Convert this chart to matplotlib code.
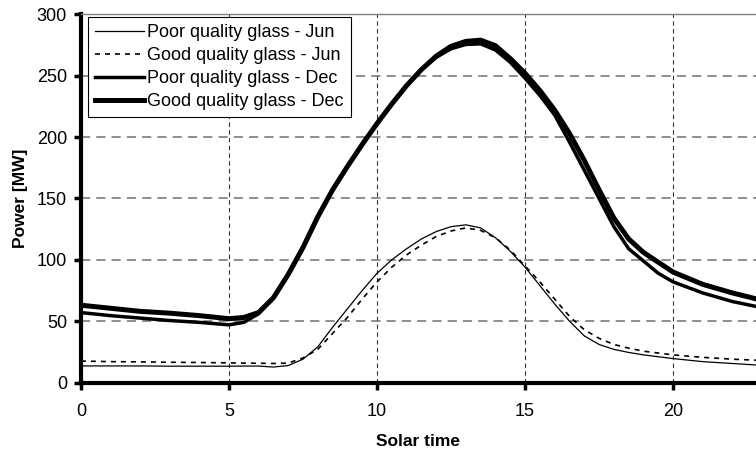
import matplotlib.pyplot as plt

plt.rcParams["font.family"] = ["Liberation Sans", "DejaVu Sans"]

# Values
hours = [0, 1, 2, 3, 4, 5, 5.5, 6, 6.5, 7, 7.5, 8, 8.5, 9, 9.5, 10, 10.5, 11, 11.5, 12,
         12.5, 13, 13.5, 14, 14.5, 15, 15.5, 16, 16.5, 17, 17.5, 18, 18.5, 19, 19.5,
         20, 21, 22, 23]
poor_jun = [13.5, 13.5, 13.5, 13.3, 13.3, 13.3, 13.4, 13.4, 12.6, 13.8, 19, 29, 45, 60, 75,
            89, 100, 109, 117, 123, 127, 128.5, 126, 118, 107, 94, 79, 64, 50, 38, 31,
            27, 24.5, 22.5, 21, 19.5, 17, 15.5, 14]
good_jun = [17.5, 17, 16.8, 16.5, 16.3, 16, 15.8, 15.7, 15.5, 15.8, 20, 27, 40, 53, 68,
            82, 94, 104, 112, 119, 123.5, 126, 124, 118, 108, 95, 82, 68, 54, 43, 36,
            31, 28, 25.5, 24, 22.5, 20.5, 19, 18]
poor_dec = [57, 54.5, 52.5, 50.5, 49, 47, 49, 56, 69, 88, 110, 135, 157, 176, 194,
            211, 227, 242, 255, 265, 272, 275.5, 276, 271, 261, 248, 234, 218, 196, 173, 150,
            127, 109, 99, 89, 82, 73, 66, 61]
good_dec = [63, 60.5, 58, 56.5, 54.5, 52, 53, 57, 69, 88, 110, 135, 157, 176, 194,
            211, 227, 242, 255, 266, 274, 278, 279, 274.5, 264, 252, 238, 222, 203, 181, 157,
            134, 117, 106, 98, 90, 80, 73, 67]

fig = plt.figure(figsize=(7.56, 4.5), dpi=100)
ax = fig.add_axes([0.107, 0.15, 0.893, 0.818])

ax.plot(hours, poor_jun, color="black", lw=0.9, label="Poor quality glass - Jun")
ax.plot(hours, good_jun, color="black", lw=1.2, dashes=(3, 3), label="Good quality glass - Jun")
ax.plot(hours, poor_dec, color="black", lw=2.5, label="Poor quality glass - Dec")
ax.plot(hours, good_dec, color="black", lw=3.6, label="Good quality glass - Dec")

ax.set_xlim(0, 22.8)
ax.set_ylim(0, 300)
ax.set_xticks([0, 5, 10, 15, 20])
ax.set_yticks([0, 50, 100, 150, 200, 250, 300])

# grid: grey dashes for horizontal, darker finer dashes for vertical
ax.yaxis.grid(True, color="#707070", lw=1.1, dashes=(6, 4))
ax.xaxis.grid(True, color="#333333", lw=0.8, dashes=(4, 3))
ax.set_axisbelow(True)

ax.spines["left"].set_linewidth(3)
ax.spines["bottom"].set_linewidth(3)
ax.spines["right"].set_visible(False)
ax.spines["top"].set_color("#808080")
ax.spines["top"].set_linewidth(1)
ax.tick_params(axis="both", width=2.5, length=5, labelsize=13, direction="out")
ax.tick_params(axis="x", pad=10)
ax.tick_params(axis="y", pad=5)

ax.set_xlabel("Solar time", fontweight="bold", fontsize=12.5)
ax.set_ylabel("Power [MW]", fontweight="bold", fontsize=12.5)
ax.xaxis.set_label_coords(0.5, -0.14)
ax.yaxis.set_label_coords(-0.079, 0.5)

leg = ax.legend(loc="upper left", bbox_to_anchor=(0.0104, 0.993), borderaxespad=0,
                fontsize=13, handlelength=2.7, handletextpad=0.2, labelspacing=0.33,
                borderpad=0.4, fancybox=False, framealpha=1)
leg.get_frame().set_edgecolor("black")
leg.get_frame().set_linewidth(0.8)

fig.savefig("out.png", dpi=100)
